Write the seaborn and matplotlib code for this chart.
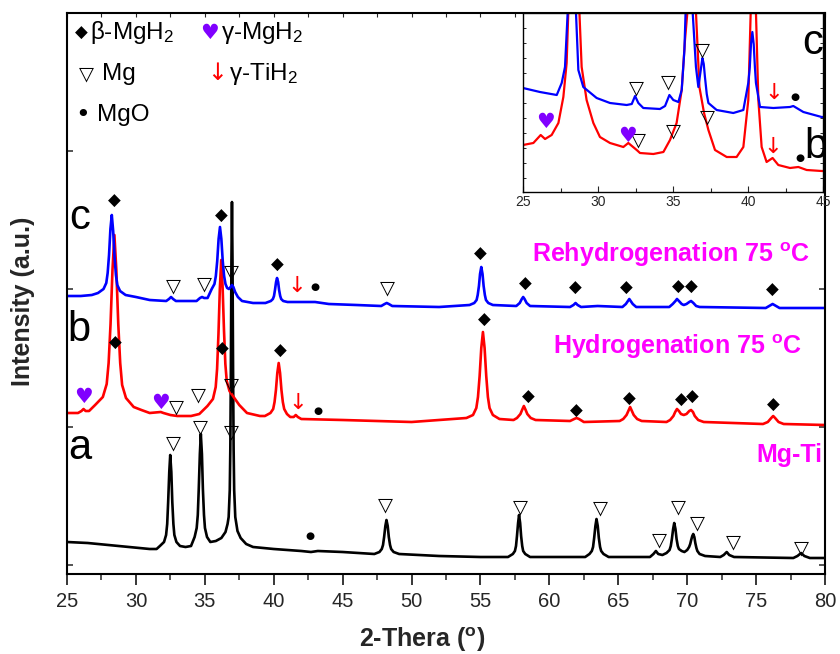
import numpy as np
import pandas as pd
import matplotlib
matplotlib.use('Agg')
import matplotlib.pyplot as plt
from matplotlib.ticker import MultipleLocator, FixedLocator
import seaborn as sns

# ---------------- main traces (2-theta, intensity a.u.) ----------------
# c : Rehydrogenation 75 C (blue)
c_x = [25.0, 26.0, 26.8, 27.25, 27.65, 27.85, 27.95, 28.05, 28.15, 28.25, 28.35, 28.45, 28.55, 28.65,
       28.85, 29.25, 30.0, 31.0, 32.2, 32.4, 32.55, 32.7, 32.9, 34.4, 34.65, 34.8, 34.95, 35.2,
       35.5, 35.7, 35.8, 35.9, 36.0, 36.1, 36.2, 36.3, 36.4, 36.5, 36.62, 36.75, 36.87, 36.97,
       37.07, 37.2, 37.4, 37.7, 38.5, 39.4, 39.79, 39.94, 40.02, 40.09, 40.17, 40.24, 40.32, 40.39,
       40.47, 40.54, 40.69, 41.0, 41.6, 43.0, 44.0, 46.0, 47.8, 48.05, 48.2, 48.35, 48.6, 52.0,
       54.21, 54.55, 54.72, 54.8, 54.89, 54.97, 55.06, 55.15, 55.23, 55.32, 55.4, 55.57, 55.9,
       57.6, 57.85, 58.0, 58.1, 58.2, 58.35, 58.6, 61.5, 61.75, 61.9, 62.05, 62.3, 63.5, 65.3,
       65.55, 65.7, 65.8, 65.9, 66.05, 66.3, 68.7, 68.95, 69.15, 69.26, 69.4, 69.6, 69.75, 69.95,
       70.15, 70.28, 70.45, 70.65, 70.9, 75.7, 75.95, 76.2, 76.45, 76.7, 80.0]
c_y = [278, 278, 279, 281, 285, 291, 301, 319, 345, 359, 343, 317, 299, 289,
       283, 279, 277, 274, 273, 275, 277, 275, 273, 273, 276, 277, 276, 276,
       285, 290, 298, 313, 335, 347, 335, 313, 298, 290, 286, 285, 287, 289,
       287, 282, 277, 273, 271, 271, 273, 275, 278, 284, 292, 296, 292, 284,
       278, 275, 273, 272, 272, 272, 270, 269, 268, 270, 271, 270, 268, 267,
       269, 271, 274, 279, 288, 300, 307, 300, 288, 279, 274, 271, 269,
       268, 271, 275, 277, 275, 271, 268, 267, 269, 271, 269, 267, 268, 267,
       270, 273, 275, 273, 270, 267, 267, 270, 273, 275, 273, 270, 269, 270,
       272, 273, 271, 268, 267, 266, 268, 270, 268, 266, 266]

# b : Hydrogenation 75 C (red)
b_x = [25.0, 25.8, 26.05, 26.2, 26.35, 26.6, 27.04, 27.6, 27.88, 28.02, 28.16, 28.3, 28.44, 28.58,
       28.72, 28.86, 29.0, 29.28, 29.84, 30.4, 31.0, 31.8, 32.0, 32.5, 33.0, 34.0, 34.6, 35.19,
       35.59, 35.79, 35.89, 35.99, 36.09, 36.19, 36.29, 36.39, 36.49, 36.59, 36.79, 37.09, 37.5,
       38.06, 39.0, 39.36, 39.76, 39.96, 40.06, 40.16, 40.26, 40.36, 40.46, 40.56, 40.66, 40.76,
       40.96, 41.2, 41.45, 41.6, 41.75, 42.0, 45.0, 50.0, 53.98, 54.46, 54.7, 54.82, 54.94, 55.06,
       55.18, 55.3, 55.42, 55.54, 55.66, 55.9, 56.38, 57.4, 57.65, 57.9, 58.02, 58.15, 58.28,
       58.4, 58.65, 59.0, 61.5, 61.8, 61.97, 62.15, 62.5, 65.1, 65.36, 65.6, 65.73, 65.86, 65.99,
       66.12, 66.37, 66.7, 68.5, 68.76, 69.0, 69.13, 69.26, 69.4, 69.55, 69.75, 69.95, 70.15,
       70.28, 70.42, 70.55, 70.8, 71.2, 75.5, 75.85, 76.1, 76.24, 76.38, 76.63, 77.0, 80.0]
b_y = [161, 161, 163, 165, 163, 163, 169, 177, 190, 211, 250, 304, 339, 304,
       250, 211, 189, 176, 167, 164, 161, 162, 161, 159, 158, 158, 160, 168,
       175, 187, 205, 240, 285, 314, 287, 244, 210, 193, 183, 177, 169,
       161, 158, 158, 161, 165, 172, 184, 201, 211, 201, 184, 172, 165,
       160, 157, 157, 159, 157, 155, 154, 152, 156, 159, 166, 177, 198, 226,
       242, 226, 198, 177, 166, 159, 155, 154, 156, 160, 164, 168, 164,
       160, 156, 154, 153, 155, 156, 155, 152, 153, 155, 159, 163, 167, 163,
       159, 155, 153, 152, 154, 158, 162, 165, 163, 160, 159, 160, 163,
       164, 162, 158, 154, 152, 150, 152, 156, 158, 156, 152, 150, 149]

# a : Mg-Ti (black)
a_x = [25.0, 26.5, 28.0, 29.5, 31.0, 31.5, 31.74, 32.04, 32.19, 32.27, 32.34, 32.42, 32.49, 32.57,
       32.64, 32.72, 32.79, 32.94, 33.2, 33.6, 34.0, 34.26, 34.41, 34.49, 34.56, 34.64, 34.71,
       34.79, 34.86, 34.94, 35.01, 35.16, 35.4, 35.8, 36.2, 36.5, 36.65, 36.73, 36.81, 36.85,
       36.89, 36.93, 36.97, 37.01, 37.05, 37.09, 37.13, 37.21, 37.37, 37.6, 38.0, 38.5, 40.0,
       42.0, 42.7, 43.2, 45.0, 47.3, 47.67, 47.84, 47.93, 48.01, 48.1, 48.18, 48.27, 48.35, 48.44,
       48.52, 48.7, 49.1, 52.0, 55.0, 57.0, 57.35, 57.5, 57.58, 57.65, 57.73, 57.8, 57.88, 57.95,
       58.03, 58.1, 58.25, 58.6, 62.6, 62.91, 63.08, 63.17, 63.25, 63.34, 63.42, 63.51, 63.59,
       63.68, 63.76, 63.93, 64.3, 67.3, 67.55, 67.73, 67.9, 68.2, 68.5, 68.72, 68.81, 68.89, 68.98,
       69.06, 69.15, 69.23, 69.32, 69.4, 69.6, 69.8, 70.0, 70.14, 70.22, 70.29, 70.37, 70.44,
       70.52, 70.59, 70.67, 70.74, 70.9, 71.3, 72.4, 72.65, 72.87, 73.05, 73.4, 77.7, 78.0, 78.27,
       78.5, 78.9, 80.0]
a_y = [32, 31, 29, 27, 25, 25, 28, 32, 39, 50, 72, 102, 119, 102,
       72, 50, 39, 32, 28, 27, 28, 37, 46, 59, 85, 120, 140,
       120, 85, 59, 46, 37, 32, 33, 36, 42, 50, 57, 84, 125,
       203, 311, 372, 311, 203, 125, 84, 57, 43, 36, 30, 27, 25,
       23, 22, 23, 22, 20, 22, 25, 29, 37, 48, 54, 48, 37, 29,
       25, 22, 20, 18, 17, 17, 20, 23, 28, 38, 51, 59, 51, 38,
       28, 23, 20, 17, 17, 20, 23, 27, 36, 48, 55, 48, 36,
       27, 23, 20, 17, 17, 20, 23, 20, 19, 21, 24, 28, 35, 45,
       51, 45, 35, 28, 25, 23, 22, 24, 27, 30, 34, 38, 40,
       37, 31, 26, 23, 20, 18, 17, 19, 22, 19, 17, 16, 18, 21,
       18, 16, 16]

# ---------------- inset traces (25-45 deg, magnified) ----------------
ci_x = [25.0, 26.13, 27.25, 27.58, 27.8, 27.98, 28.12, 28.25, 28.4, 28.53, 28.69, 29.02, 29.91, 30.8,
        31.91, 32.25, 32.47, 32.69, 33.02, 34.13, 34.47, 34.76, 35.02, 35.36, 35.58, 35.76, 35.84,
        35.98, 36.1, 36.22, 36.31, 36.53, 36.69, 36.85, 36.96, 37.05, 37.13, 37.25, 37.36, 37.91,
        39.02, 39.69, 40.02, 40.12, 40.2, 40.29, 40.38, 40.46, 40.53, 40.8, 41.69, 42.8, 43.02,
        43.69, 44.91, 45.0]
ci_y = [104, 100, 97, 109, 125, 180, 300, 400, 300, 180, 122, 105, 94, 89,
        87, 88, 96, 89, 84, 83, 86, 97, 92, 90, 102, 142, 180,
        280, 350, 280, 180, 125, 105, 122, 134, 128, 115, 98, 89, 82,
        79, 82, 109, 125, 148, 160, 148, 125, 109, 85, 84, 85, 86,
        80, 75, 75]

bi_x = [25.0, 25.69, 26.18, 26.47, 26.91, 27.36, 27.69, 27.91, 28.02, 28.2, 28.4, 28.6, 28.76, 28.91,
        29.24, 29.69, 30.13, 30.8, 31.69, 32.02, 32.58, 32.8, 33.69, 34.36, 34.8, 35.24, 35.58, 35.8,
        35.96, 36.19, 36.4, 36.53, 36.76, 37.07, 37.36, 37.8, 38.58, 39.24, 39.69, 40.02, 40.18,
        40.36, 40.53, 40.69, 40.91, 41.24, 41.64, 42.02, 42.8, 43.36, 43.91, 44.91, 45.0]
bi_y = [47, 49, 57, 53, 57, 69, 95, 129, 180, 300, 420, 300, 180, 125,
        92, 69, 55, 49, 45, 49, 42, 39, 38, 40, 52, 69, 102, 152,
        180, 350, 250, 180, 105, 79, 62, 42, 35, 35, 45, 92, 180,
        280, 180, 92, 45, 30, 34, 27, 24, 25, 22, 21, 21]

# ---------------- phase markers (main) ----------------
dia_x = [28.44, 36.19, 40.24, 55.01, 58.29, 61.92, 65.6, 69.35, 70.28, 76.16,
         28.49, 36.29, 40.48, 55.26, 58.45, 61.99, 65.79, 69.55, 70.35, 76.26]
dia_y = [373, 358, 309, 320, 290, 286, 286, 287, 287, 284,
         231, 225, 223, 254, 177, 163, 175, 174, 177, 169]
tri_x = [32.73, 34.98, 36.9, 48.23, 32.92, 34.54, 36.9,
         32.73, 34.67, 36.92, 48.1, 57.92, 63.68, 67.97, 69.35, 70.71, 73.35, 78.27]
tri_y = [288, 290, 302, 286, 167, 179, 189,
         131, 147, 142, 69, 67, 66, 34, 67, 51, 32, 26]
dot_x = [43.02, 43.22, 42.66]
dot_y = [287, 163, 38]
heart_x = [26.19, 31.81]
heart_y = [177, 171]
arrow_x = [41.64, 41.76]
arrow_y = [288, 171]

# ---------------- phase markers (inset) ----------------
itri_x = [32.53, 34.69, 36.96, 32.69, 35.02, 37.29]
itri_y = [104, 110, 142, 52, 61, 75]
iheart_x = [26.47, 31.96]
iheart_y = [70, 56]
iarrow_x = [41.69, 41.64]
iarrow_y = [99, 45]
idot_x = [43.13, 43.47]
idot_y = [95, 34]

sample_letters = ['c', 'b', 'a']
letter_x = [25.9, 25.9, 25.9]
letter_y = [356, 244, 126]
inset_letters = ['c', 'b']
inset_letter_x = [44.29, 44.5]
inset_letter_y = [149, 45]

cond_labels = ['Rehydrogenation 75 $^{\\mathbf{o}}$C', 'Hydrogenation 75 $^{\\mathbf{o}}$C', 'Mg-Ti']
cond_x = [78.9, 78.3, 79.8]
cond_y = [312, 220, 112]

legend_syms = ['\u25C6', '\u2665', '\u25BD', '\u2193', '\u2022']
legend_texts = ['\u03B2-MgH$_2$', '\u03B3-MgH$_2$', 'Mg', '\u03B3-TiH$_2$', 'MgO']

# ---------------- styling ----------------
sns.set_style('ticks')
plt.rcParams['font.family'] = ['Liberation Sans', 'DejaVu Sans']
plt.rcParams['mathtext.fontset'] = 'custom'
plt.rcParams['mathtext.rm'] = 'Liberation Sans'
plt.rcParams['mathtext.it'] = 'Liberation Sans:italic'
plt.rcParams['mathtext.bf'] = 'Liberation Sans:bold'

W, H = 840, 654
fig = plt.figure(figsize=(W / 100, H / 100), dpi=100)

def fx(px):
    return px / W

def fy(py):
    return 1 - py / H

ax = fig.add_axes([fx(67), fy(574), fx(825) - fx(67), fy(13) - fy(574)])

LW = 1.9
for xs, ys, col in [(a_x, a_y, 'black'), (b_x, b_y, '#ff0000'), (c_x, c_y, '#0000ff')]:
    df = pd.DataFrame({'two_theta': xs, 'intensity': ys})
    sns.lineplot(data=df, x='two_theta', y='intensity', ax=ax, color=col, lw=LW,
                 estimator=None, sort=False)

ax.set_xlim(25, 80)
ax.set_ylim(0, 561)
ax.set_xlabel('')
ax.set_ylabel('')
ax.xaxis.set_major_locator(MultipleLocator(5))
ax.xaxis.set_minor_locator(MultipleLocator(2.5))
ax.yaxis.set_major_locator(FixedLocator([9, 147, 285, 423]))
ax.tick_params(axis='x', which='major', direction='out', length=8, width=1.3, labelsize=14.5, pad=5,
               top=False)
ax.tick_params(axis='x', which='minor', direction='out', length=4.5, width=1.1, top=False)
ax.tick_params(axis='y', which='major', direction='in', length=4, width=1.1, left=True, right=True,
               labelleft=False)
for sp in ax.spines.values():
    sp.set_visible(True)
    sp.set_linewidth(1.5)
    sp.set_color('black')
ax_top = ax.secondary_xaxis('top')
ax_top.xaxis.set_major_locator(MultipleLocator(2.5))
ax_top.tick_params(direction='in', length=3, width=0.8, labeltop=False)
ax_top.spines['top'].set_visible(False)

sym_font = ['DejaVu Sans']
for x, y in zip(dia_x, dia_y):
    ax.text(x, y, '\u25C6', ha='center', va='center', fontsize=12, color='black', family=sym_font)
for x, y in zip(tri_x, tri_y):
    ax.text(x, y, '\u25BD', ha='center', va='center', fontsize=14, color='black', family=sym_font)
for x, y in zip(dot_x, dot_y):
    ax.text(x, y, '\u25CF', ha='center', va='center', fontsize=7.5, color='black', family=sym_font)
for x, y in zip(heart_x, heart_y):
    ax.text(x, y, '\u2665', ha='center', va='center', fontsize=15, color='#8000ff', family=sym_font)
for x, y in zip(arrow_x, arrow_y):
    ax.text(x, y, '\u2193', ha='center', va='center', fontsize=16, color='#ff0000', family=sym_font)

for t, x, y in zip(sample_letters, letter_x, letter_y):
    ax.text(x, y, t, ha='center', va='center', fontsize=30, color='black')

for t, x, y in zip(cond_labels, cond_x, cond_y):
    ax.text(x, y, t, ha='right', va='baseline', fontsize=18, fontweight='bold', color='#ff00ff')

leg_sym_pos = [(81, 33), (209, 33), (86, 74), (217, 73), (83, 115)]
leg_sym_style = [(12, 'black'), (15, '#8000ff'), (14, 'black'), (17, '#ff0000'), (18, 'black')]
leg_txt_pos = [(90, 39), (221, 39), (102, 80), (229, 80), (97, 121)]
for s, (px, py), (fs, col) in zip(legend_syms, leg_sym_pos, leg_sym_style):
    fig.text(fx(px), fy(py), s, ha='center', va='center', fontsize=fs, color=col, family=sym_font)
for t, (px, py) in zip(legend_texts, leg_txt_pos):
    fig.text(fx(px), fy(py), t, ha='left', va='baseline', fontsize=17.5, color='black')

fig.text(fx(23), fy(301), 'Intensity (a.u.)', rotation=90, ha='center', va='center',
         fontsize=18, fontweight='bold')
fig.text(fx(422), fy(640), '2-Thera ($^{\\mathbf{o}}$)', ha='center', va='center',
         fontsize=18, fontweight='bold')

# ---------------- inset ----------------
axi = fig.add_axes([fx(523), fy(192), fx(823) - fx(523), fy(13) - fy(192)])
axi.set_facecolor('white')
for xs, ys, col in [(bi_x, bi_y, '#ff0000'), (ci_x, ci_y, '#0000ff')]:
    df = pd.DataFrame({'two_theta': xs, 'intensity': ys})
    sns.lineplot(data=df, x='two_theta', y='intensity', ax=axi, color=col, lw=1.6,
                 estimator=None, sort=False)
axi.set_xlim(25, 45)
axi.set_ylim(0, 179)
axi.set_xlabel('')
axi.set_ylabel('')
axi.xaxis.set_major_locator(MultipleLocator(5))
axi.xaxis.set_minor_locator(MultipleLocator(2.5))
axi.yaxis.set_major_locator(FixedLocator([13.7 + 15 * k for k in range(11)]))
axi.tick_params(axis='x', which='major', direction='in', length=4, width=0.8, labelsize=10, pad=2)
axi.tick_params(axis='x', which='minor', direction='in', length=3, width=0.8)
axi.tick_params(axis='y', which='major', direction='in', length=2.5, width=0.7, left=True, right=True,
                labelleft=False)
for sp in axi.spines.values():
    sp.set_visible(True)
    sp.set_linewidth(1.0)
    sp.set_color('black')

for x, y in zip(itri_x, itri_y):
    axi.text(x, y, '\u25BD', ha='center', va='center', fontsize=14, color='black', family=sym_font)
for x, y in zip(iheart_x, iheart_y):
    axi.text(x, y, '\u2665', ha='center', va='center', fontsize=15, color='#8000ff', family=sym_font)
for x, y in zip(iarrow_x, iarrow_y):
    axi.text(x, y, '\u2193', ha='center', va='center', fontsize=16, color='#ff0000', family=sym_font)
for x, y in zip(idot_x, idot_y):
    axi.text(x, y, '\u25CF', ha='center', va='center', fontsize=7.5, color='black', family=sym_font)
for t, x, y in zip(inset_letters, inset_letter_x, inset_letter_y):
    axi.text(x, y, t, ha='center', va='center', fontsize=30, color='black', clip_on=True)

fig.savefig('out.png', dpi=100)
